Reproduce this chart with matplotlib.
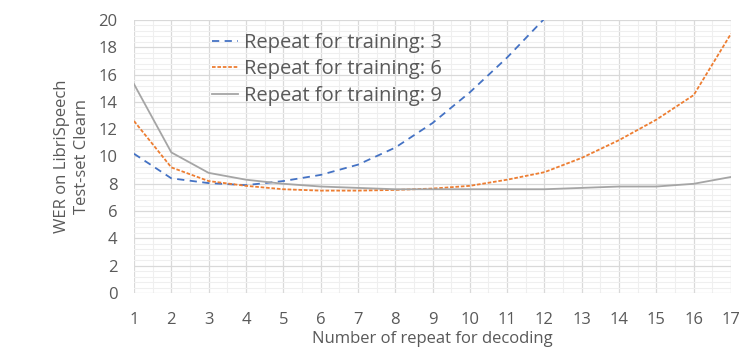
import numpy as np
import matplotlib
matplotlib.use("Agg")
import matplotlib.pyplot as plt
from matplotlib.ticker import MultipleLocator

plt.rcParams['font.family'] = ['Open Sans', 'DejaVu Sans']

# data
repeat_decoding = list(range(1, 18))
wer_train3 = [10.2, 8.4, 8.05, 7.9, 8.2, 8.65, 9.4, 10.65, 12.45, 14.7, 17.25, 20.1]
wer_train6 = [12.6, 9.2, 8.2, 7.85, 7.6, 7.5, 7.5, 7.55, 7.65, 7.85, 8.3, 8.85,
              9.9, 11.2, 12.7, 14.5, 19.0]
wer_train9 = [15.3, 10.3, 8.8, 8.3, 8.0, 7.8, 7.7, 7.6, 7.6, 7.6, 7.6, 7.6,
              7.7, 7.8, 7.8, 8.0, 8.5]
labels = ['Repeat for training: 3', 'Repeat for training: 6', 'Repeat for training: 9']

text_col = '#595959'

fig = plt.figure(figsize=(7.47, 3.49), dpi=100)
ax = fig.add_axes([0.1794, 0.1605, 0.7992, 0.7822])

ax.plot(repeat_decoding[:len(wer_train3)], wer_train3, color='#4472C4', lw=1.3,
        linestyle=(0, (4, 3)), label=labels[0])
ax.plot(repeat_decoding, wer_train6, color='#ED7D31', lw=1.3,
        linestyle=(0, (2, 1)), label=labels[1])
ax.plot(repeat_decoding, wer_train9, color='#A5A5A5', lw=1.3, label=labels[2])

ax.set_xlim(1, 17)
ax.set_ylim(0, 20)
ax.xaxis.set_major_locator(MultipleLocator(1))
ax.xaxis.set_minor_locator(MultipleLocator(0.5))
ax.yaxis.set_major_locator(MultipleLocator(2))
ax.yaxis.set_minor_locator(MultipleLocator(0.4))
ax.grid(which='major', color='#D9D9D9', lw=0.9)
ax.grid(which='minor', color='#EFEFEF', lw=0.8)
ax.set_axisbelow(True)
for s in ax.spines.values():
    s.set_visible(False)
ax.tick_params(which='both', length=0, labelsize=12, colors=text_col)
ax.tick_params(axis='x', pad=14)
ax.tick_params(axis='y', pad=12)

ax.set_xlabel('Number of repeat for decoding', fontsize=12, color=text_col, labelpad=2)
ax.set_ylabel('WER on LibriSpeech\nTest-set Clearn', fontsize=12, color=text_col,
              labelpad=6, linespacing=1.35)

leg = ax.legend(loc='upper left', bbox_to_anchor=(0.1, 1.02), frameon=False,
                fontsize=14.5, handlelength=1.3, handletextpad=0.3, labelspacing=0.33,
                labelcolor=text_col)

fig.savefig('out.png', dpi=100)
